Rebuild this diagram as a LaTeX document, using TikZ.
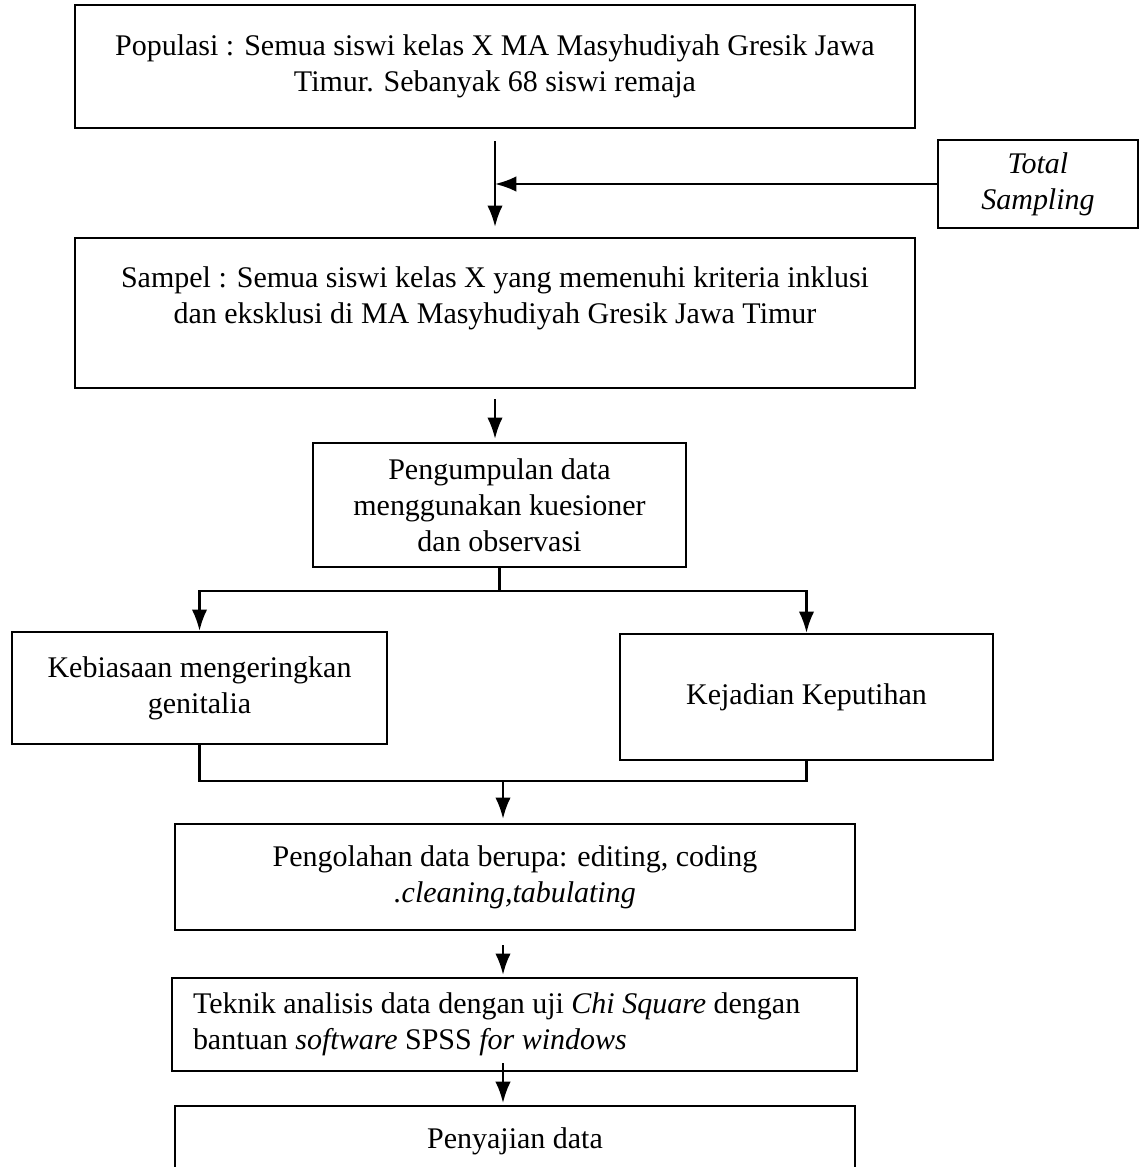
\documentclass[tikz,border=0pt]{standalone}
\usepackage{fontspec}
\setmainfont{Liberation Serif}
\usetikzlibrary{arrows.meta}

\begin{document}
\begin{tikzpicture}[
  x=0.0136cm, y=-0.0136cm,
  >={Latex[length=2.9mm,width=2.1mm]},
  font=\fontsize{11.6pt}{14pt}\selectfont,
  box/.style={rectangle, draw, line width=0.9pt, align=center, inner sep=0pt},
  arrow/.style={->, line width=0.9pt},
  link/.style={line width=0.9pt}
]
\useasboundingbox (0,0) rectangle (1140,1167);
\clip (0,0) rectangle (1140,1167);

% Population and sample
\node[box, minimum width=840*0.0136cm, minimum height=123*0.0136cm] (pop) at (495,66.5)
  {Populasi : Semua siswi kelas X MA Masyhudiyah Gresik Jawa\\Timur. Sebanyak 68 siswi remaja};
\node[box, minimum width=200*0.0136cm, minimum height=88*0.0136cm] (total) at (1038,184)
  {\textit{Total}\\\textit{Sampling}};
\node[box, minimum width=840*0.0136cm, minimum height=150*0.0136cm] (sampel) at (495,313)
  {Sampel : Semua siswi kelas X yang memenuhi kriteria inklusi\\dan eksklusi di MA Masyhudiyah Gresik Jawa Timur\\~};

% Data collection
\node[box, minimum width=373*0.0136cm, minimum height=124*0.0136cm] (kumpul) at (499.5,505)
  {Pengumpulan data\\menggunakan kuesioner\\dan observasi};

% Variables
\node[box, minimum width=375*0.0136cm, minimum height=112*0.0136cm] (biasa) at (199.5,688)
  {Kebiasaan mengeringkan\\genitalia};
\node[box, minimum width=373*0.0136cm, minimum height=126*0.0136cm] (putih) at (806.5,697)
  {Kejadian Keputihan};

% Processing and analysis
\node[box, minimum width=680*0.0136cm, minimum height=106*0.0136cm] (olah) at (515,877)
  {Pengolahan data berupa: editing, coding\\\textit{.cleaning,tabulating}};
\node[box, minimum width=685*0.0136cm, minimum height=93*0.0136cm, text width=643*0.0136cm, align=flush left] (teknik) at (514.5,1024.5)
  {Teknik analisis data dengan uji \textit{Chi Square} dengan\\bantuan \textit{software} SPSS \textit{for windows}};
\node[box, anchor=north, minimum width=680*0.0136cm, inner ysep=22*0.0136cm, text depth=120*0.0136cm] (saji) at (515,1105)
  {Penyajian data};

\coordinate (merge) at (503,781);

% Arrows
\draw[arrow, shorten <=12*0.0136cm, shorten >=10*0.0136cm] (pop.south) -- (sampel.north);
\draw[arrow] (total.west) -- (total.west -| pop.south);
\draw[arrow, shorten <=10*0.0136cm, shorten >=3*0.0136cm] (sampel.south) -- (sampel.south |- kumpul.north);
\draw[arrow] (kumpul.south) -- ++(0,23) -| (biasa.north);
\draw[arrow] (kumpul.south) -- ++(0,23) -| (putih.north);
\draw[link] (biasa.south) |- (merge);
\draw[link] (putih.south) |- (merge);
\draw[arrow, shorten >=4*0.0136cm] (merge) -- (merge |- olah.north);
\draw[arrow, shorten <=14*0.0136cm, shorten >=2*0.0136cm] (merge |- olah.south) -- (merge |- teknik.north);
\draw[arrow, shorten <=-9*0.0136cm, shorten >=2*0.0136cm] (merge |- teknik.south) -- (merge |- saji.north);

\end{tikzpicture}
\end{document}
